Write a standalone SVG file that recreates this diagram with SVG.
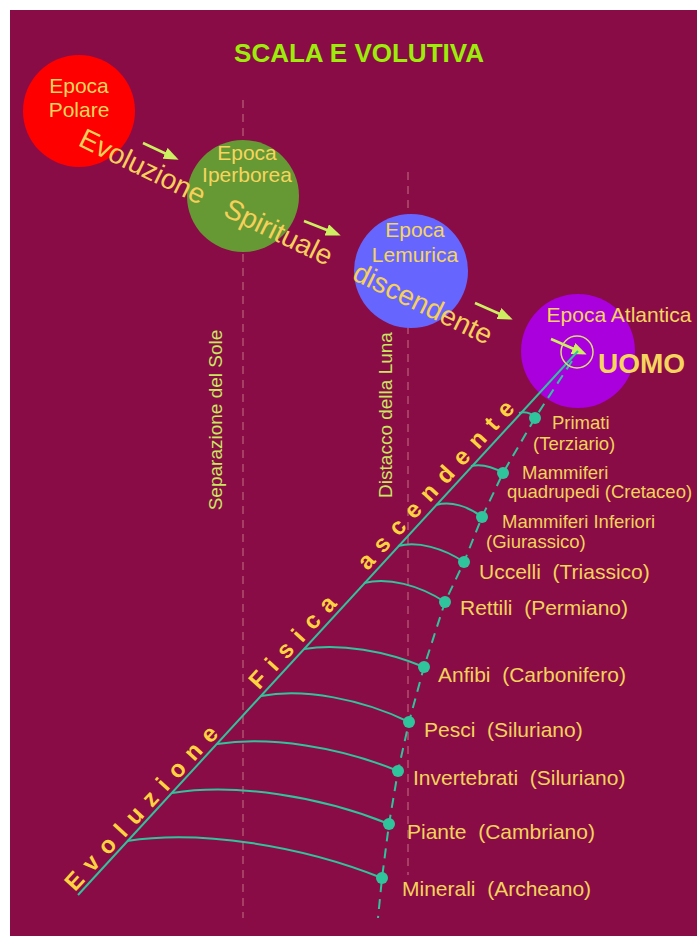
<svg xmlns="http://www.w3.org/2000/svg" width="697" height="936" viewBox="0 0 697 936">
  <defs>
    <style>
      .bg { fill: #8A0C47; }
      .epoch { font-family: "Liberation Sans", Arial, sans-serif; font-size: 21px; fill: #F5D55E; text-anchor: middle; }
      .spirit { font-family: "Liberation Sans", Arial, sans-serif; font-size: 28px; fill: #F5D05A; }
      .vert { font-family: "Liberation Sans", Arial, sans-serif; font-size: 19px; fill: #C8E860; text-anchor: middle; }
      .phys { font-family: "Liberation Sans", Arial, sans-serif; font-size: 24px; font-weight: bold; fill: #FFD23F; letter-spacing: 9.7px; }
      .lbl { font-family: "Liberation Sans", Arial, sans-serif; font-size: 21px; fill: #F2D35A; }
      .lbls { font-family: "Liberation Sans", Arial, sans-serif; font-size: 18.5px; fill: #F2D35A; }
      .guide { stroke: #B0506E; stroke-width: 1.5; stroke-dasharray: 8 6; fill: none; }
      .teal { stroke: #2FC49B; stroke-width: 2; fill: none; }
      .tealdash { stroke: #2FC49B; stroke-width: 2; fill: none; stroke-dasharray: 10 7; }
      .dot { fill: #2FC49B; }
      .arrow { stroke: #CCF060; stroke-width: 2.5; fill: none; marker-end: url(#ah); }
    </style>
    <marker id="ah" markerUnits="userSpaceOnUse" markerWidth="16" markerHeight="12" refX="11" refY="6" orient="auto">
      <path d="M0,0 L15,6 L0,12 z" fill="#CCF060"/>
    </marker>
  </defs>

  <rect x="0" y="0" width="697" height="936" fill="#FFFFFF"/>
  <rect class="bg" x="10" y="10" width="687" height="926"/>

  <text x="359" y="62" font-family="'Liberation Sans', Arial, sans-serif" font-size="26" font-weight="bold" fill="#9CEE0A" text-anchor="middle">SCALA E VOLUTIVA</text>

  <!-- guide lines -->
  <g id="guides">
    <line class="guide" x1="243" y1="100" x2="243" y2="918"/>
    <line class="guide" x1="408" y1="172" x2="408" y2="875"/>
    <text class="vert" transform="translate(222,420) rotate(-90)">Separazione del Sole</text>
    <text class="vert" transform="translate(392,415) rotate(-90)">Distacco della Luna</text>
  </g>

  <!-- epoch nodes -->
  <g id="polare">
    <circle cx="79" cy="111" r="56" fill="#FF0000"/>
    <text class="epoch" x="79" y="93">Epoca</text>
    <text class="epoch" x="79" y="117">Polare</text>
  </g>
  <g id="iperborea">
    <circle cx="243" cy="196" r="56" fill="#669933"/>
    <text class="epoch" x="247" y="160">Epoca</text>
    <text class="epoch" x="247" y="182">Iperborea</text>
  </g>
  <g id="lemurica">
    <circle cx="411" cy="271" r="57" fill="#6666FF"/>
    <text class="epoch" x="415" y="237">Epoca</text>
    <text class="epoch" x="415" y="262">Lemurica</text>
  </g>
  <g id="atlantica">
    <circle cx="578" cy="351" r="57" fill="#AA00DD"/>
    <text class="epoch" x="619" y="322">Epoca Atlantica</text>
  </g>

  <!-- spiritual descending text -->
  <g id="spirituale">
    <text class="spirit" transform="translate(77,145) rotate(26)">Evoluzione</text>
    <text class="spirit" transform="translate(222,215) rotate(26)">Spirituale</text>
    <text class="spirit" transform="translate(351,279) rotate(26)">discendente</text>
  </g>

  <!-- connectors -->
  <g id="connectors">
    <line class="arrow" x1="143" y1="143" x2="175" y2="158"/>
    <line class="arrow" x1="304" y1="221" x2="337" y2="234"/>
    <line class="arrow" x1="475" y1="303" x2="509" y2="318"/>
    <line class="arrow" x1="551" y1="339" x2="583" y2="353"/>

    <line class="teal" x1="78" y1="895" x2="578" y2="351"/>
    <polyline class="tealdash" points="572,361 535,418 503,473 482,517 464,562 445,602 424,667 409,722 398,771 389,824 382,878 378,918"/>

    <path class="teal" d="M519,413 C526,411 531,413 535,418"/>
    <path class="teal" d="M471,466 C481,464 493,467 503,473"/>
    <path class="teal" d="M436,505 C451,501 468,506 482,517"/>
    <path class="teal" d="M398,546 C418,541 443,548 464,562"/>
    <path class="teal" d="M364,583 C388,577 419,585 445,602"/>
    <path class="teal" d="M304,649 C340,643 386,651 424,667"/>
    <path class="teal" d="M261,696 C304,688 362,699 409,722"/>
    <path class="teal" d="M217,744 C270,736 340,747 398,771"/>
    <path class="teal" d="M172,793 C235,783 320,796 389,824"/>
    <path class="teal" d="M127,841 C200,830 300,845 382,878"/>
  </g>

  <g id="uomo">
    <circle cx="577" cy="352" r="16" fill="none" stroke="#D6DC7A" stroke-width="1.5"/>
    <text x="598" y="373" font-family="'Liberation Sans', Arial, sans-serif" font-size="28" font-weight="bold" fill="#F5D55E">UOMO</text>
  </g>

  <!-- physical ascending text -->
  <g id="fisica">
    <text class="phys" transform="translate(75,892.3) rotate(-47.5)">Evoluzione</text>
    <text class="phys" transform="translate(259,690.4) rotate(-47.5)">Fisica</text>
    <text class="phys" transform="translate(367.5,571.2) rotate(-47.5)">ascendente</text>
  </g>

  <!-- stages -->
  <g id="primati"><circle class="dot" cx="535" cy="418" r="6"/><text class="lbls" x="552" y="429">Primati</text><text class="lbls" x="533" y="450">(Terziario)</text></g>
  <g id="mammiferi-quadrupedi"><circle class="dot" cx="503" cy="473" r="6"/><text class="lbls" x="522" y="479">Mammiferi</text><text class="lbls" x="507" y="498">quadrupedi (Cretaceo)</text></g>
  <g id="mammiferi-inferiori"><circle class="dot" cx="482" cy="517" r="6"/><text class="lbls" x="502" y="528">Mammiferi Inferiori</text><text class="lbls" x="486" y="548">(Giurassico)</text></g>
  <g id="uccelli"><circle class="dot" cx="464" cy="562" r="6"/><text class="lbl" x="479" y="579" xml:space="preserve">Uccelli  (Triassico)</text></g>
  <g id="rettili"><circle class="dot" cx="445" cy="602" r="6"/><text class="lbl" x="460" y="615" xml:space="preserve">Rettili  (Permiano)</text></g>
  <g id="anfibi"><circle class="dot" cx="424" cy="667" r="6"/><text class="lbl" x="438" y="682" xml:space="preserve">Anfibi  (Carbonifero)</text></g>
  <g id="pesci"><circle class="dot" cx="409" cy="722" r="6"/><text class="lbl" x="424" y="737" xml:space="preserve">Pesci  (Siluriano)</text></g>
  <g id="invertebrati"><circle class="dot" cx="398" cy="771" r="6"/><text class="lbl" x="413" y="785" xml:space="preserve">Invertebrati  (Siluriano)</text></g>
  <g id="piante"><circle class="dot" cx="389" cy="824" r="6"/><text class="lbl" x="407" y="839" xml:space="preserve">Piante  (Cambriano)</text></g>
  <g id="minerali"><circle class="dot" cx="382" cy="878" r="6"/><text class="lbl" x="402" y="896" xml:space="preserve">Minerali  (Archeano)</text></g>
</svg>
